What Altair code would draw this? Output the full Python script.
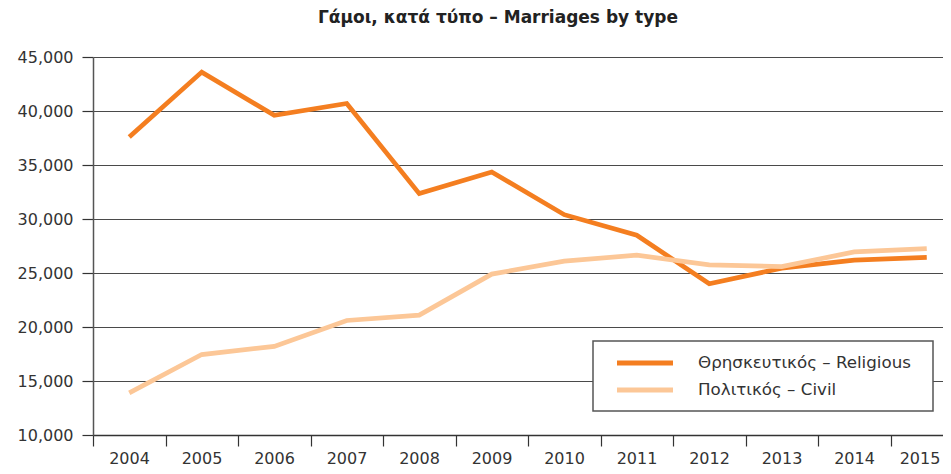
import altair as alt
import pandas as pd

years = list(range(2004, 2016))
religious = [37600, 43600, 39600, 40700, 32350, 34350, 30400, 28500, 24000, 25450, 26200, 26450]
civil = [13900, 17450, 18200, 20600, 21100, 24900, 26100, 26650, 25750, 25600, 26950, 27250]
series_names = ["Θρησκευτικός – Religious", "Πολιτικός – Civil"]
series_colors = ["#F47E20", "#FCC797"]
y_ticks = [10000, 15000, 20000, 25000, 30000, 35000, 40000, 45000]
x_bounds = [y - 0.5 for y in years] + [2015.5]

rows = []
for name, vals in zip(series_names, [religious, civil]):
    for yr, v in zip(years, vals):
        rows.append({"year": yr, "value": v, "series": name})
df = pd.DataFrame(rows)

color_scale = alt.Scale(domain=series_names, range=series_colors)

lines = alt.Chart(df).mark_line(strokeWidth=4.7, strokeCap="butt", strokeJoin="miter").encode(
    x=alt.X("year:Q", title=None,
            scale=alt.Scale(domain=[2003.5, 2015.2241], nice=False, zero=False),
            axis=alt.Axis(values=x_bounds, labelExpr="format(datum.value + 0.5, 'd')",
                          labelOffset={"condition": {"test": "datum.value > 2014", "value": 29},
                                       "value": 36},
                          labelFlush=False, labelOverlap=False,
                          labelBound=False, labelAngle=0,
                          labelFont="DejaVu Sans", labelFontSize=16,
                          labelColor="#333333", tickSize=11, tickColor="#333333",
                          tickWidth=1.2, domainColor="#333333", domainWidth=1.3,
                          labelPadding=4, grid=False)),
    y=alt.Y("value:Q", title=None,
            scale=alt.Scale(domain=[10000, 45000], nice=False, zero=False),
            axis=alt.Axis(values=y_ticks, format=",.0f", labelFont="DejaVu Sans",
                          labelFontSize=16, labelColor="#333333", tickSize=11,
                          tickColor="#333333", tickWidth=1.2, domainColor="#555555",
                          domainWidth=1.5, labelPadding=9, grid=True,
                          gridColor="#4a4a4a", gridWidth=1.2)),
    color=alt.Color("series:N", scale=color_scale, legend=None),
    detail="series:N",
)

layers = [lines]

box = alt.Chart(pd.DataFrame({"a": [0]})).mark_rect(
    fill="white", stroke="#555555", strokeWidth=1.5
).encode(x=alt.value(500), x2=alt.value(840), y=alt.value(284), y2=alt.value(354))
layers.append(box)

legend_y = [306, 333]
for name, ly in zip(series_names, legend_y):
    ldf = pd.DataFrame({"series": [name]})
    sym = alt.Chart(ldf).mark_rule(strokeWidth=5, strokeCap="butt").encode(
        x=alt.value(524), x2=alt.value(580), y=alt.value(ly),
        color=alt.Color("series:N", scale=color_scale, legend=None))
    txt = alt.Chart(ldf).mark_text(align="left", baseline="middle", font="DejaVu Sans",
                                   fontSize=16.7, color="#333333").encode(
        x=alt.value(605), y=alt.value(ly), text="series:N")
    layers += [sym, txt]

chart = alt.layer(*layers).properties(
    width=850, height=378,
    padding={"left": 85, "top": 49, "right": 0, "bottom": 31},
    autosize=alt.AutoSizeParams(type="none"),
    title=alt.TitleParams("Γάμοι, κατά τύπο – Marriages by type", font="DejaVu Sans",
                          fontSize=17, fontWeight="bold", color="#222222",
                          anchor="middle", frame="group", dx=-20, offset=9,
                          baseline="alphabetic"),
).configure_view(strokeWidth=0)

chart.save("out.html", embed_options={"renderer": "svg", "actions": False})
